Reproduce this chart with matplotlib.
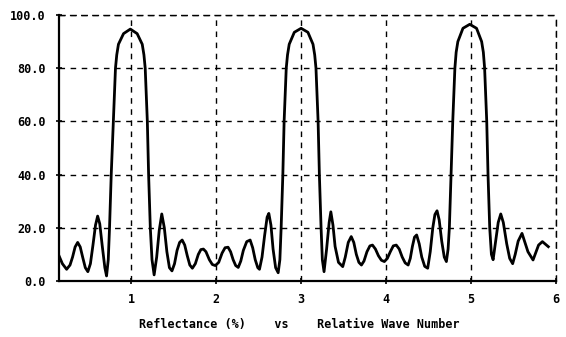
import matplotlib
matplotlib.use("Agg")
import matplotlib.pyplot as plt

# Reflectance (%) vs relative wave number

# side lobes left of the first peak
wave_a = [0.15, 0.19, 0.24, 0.28, 0.31, 0.34, 0.37, 0.40, 0.43, 0.46, 0.49,
          0.52, 0.55, 0.58, 0.605, 0.63, 0.66, 0.69, 0.71]
refl_a = [9.5, 6.5, 4.4, 6.0, 9.0, 12.8, 14.5, 12.8, 8.8, 5.0, 3.5,
          6.5, 13.5, 21.0, 24.4, 21.5, 13.0, 5.0, 1.9]

# first peak (around 1)
wave_p1 = [0.73, 0.745, 0.765, 0.79, 0.815, 0.83, 0.85, 0.91, 0.99, 1.07,
           1.13, 1.15, 1.165, 1.19, 1.205, 1.225, 1.245]
refl_p1 = [8, 20, 40, 60, 80, 85, 89, 93, 94.7, 93,
           89, 85, 80, 60, 40, 20, 8]

# side lobes between 1 and 3
wave_b = [1.27, 1.30, 1.33, 1.36, 1.39, 1.42, 1.45, 1.48, 1.51, 1.54, 1.57,
          1.60, 1.63, 1.66, 1.69, 1.72, 1.755, 1.79, 1.82, 1.85, 1.88, 1.92,
          1.955, 1.99, 2.03, 2.07, 2.105, 2.14, 2.17, 2.20, 2.23, 2.26, 2.29,
          2.32, 2.36, 2.40, 2.43, 2.46, 2.49, 2.51, 2.54, 2.57, 2.60, 2.62,
          2.645, 2.67, 2.70, 2.73]
refl_b = [2.3, 9, 19, 25.2, 20, 11, 5, 3.8, 6.5, 11.5, 14.5,
          15.4, 13.5, 9.5, 6, 4.8, 6.5, 10, 11.8, 12, 11, 8,
          6.2, 5.8, 7, 10.5, 12.5, 12.7, 11, 8, 5.8, 5.1, 7.5,
          11.5, 14.8, 15.4, 12.5, 8, 5, 4.4, 9, 17, 24, 25.4,
          21, 12, 5, 3.1]

# second peak (around 3)
wave_p2 = [2.75, 2.765, 2.785, 2.80, 2.825, 2.84, 2.86, 2.92, 3.00, 3.08,
           3.14, 3.16, 3.175, 3.20, 3.215, 3.235, 3.25]
refl_p2 = [8, 20, 40, 60, 80, 85, 89, 93.5, 95, 93.5,
           89, 85, 80, 60, 40, 20, 8]

# side lobes between 3 and 5
wave_c = [3.27, 3.30, 3.33, 3.35, 3.375, 3.40, 3.44, 3.49, 3.52, 3.555,
          3.59, 3.62, 3.65, 3.68, 3.71, 3.74, 3.775, 3.81, 3.84, 3.875,
          3.91, 3.945, 3.98, 4.015, 4.05, 4.085, 4.12, 4.155, 4.19, 4.225,
          4.26, 4.285, 4.31, 4.335, 4.36, 4.39, 4.42, 4.455, 4.49, 4.52,
          4.55, 4.575, 4.60, 4.625, 4.655, 4.685, 4.71]
refl_c = [3.5, 12, 22, 26, 21, 13, 7, 5.4, 9, 14.5,
          16.7, 14.5, 10, 7, 6, 7.5, 11, 13.2, 13.5, 12,
          9.5, 7.8, 7.3, 8.5, 11, 13.2, 13.5, 12, 9, 6.8,
          6, 8.5, 13, 16.5, 17.3, 14, 9, 5.5, 4.8, 11,
          20, 25, 26.4, 23, 15, 9, 7.3]

# third peak (around 5)
wave_p3 = [4.73, 4.745, 4.765, 4.785, 4.81, 4.825, 4.845, 4.905, 4.985, 5.065,
           5.125, 5.145, 5.16, 5.185, 5.20, 5.22, 5.24]
refl_p3 = [12, 20, 40, 60, 80, 86, 90, 95, 96.5, 95,
           90, 86, 80, 60, 40, 20, 10]

# tail after the third peak
wave_d = [5.26, 5.29, 5.32, 5.35, 5.38, 5.42, 5.455, 5.49, 5.52, 5.555,
          5.60, 5.67, 5.73, 5.795, 5.84, 5.91]
refl_d = [8, 15, 22, 25.2, 22, 14, 8.5, 6.5, 10, 15,
          17.9, 11, 7.9, 13.5, 14.8, 12.9]

wave = wave_a + wave_p1 + wave_b + wave_p2 + wave_c + wave_p3 + wave_d
refl = refl_a + refl_p1 + refl_b + refl_p2 + refl_c + refl_p3 + refl_d

x_ticks = [1, 2, 3, 4, 5, 6]
y_ticks = [0, 20, 40, 60, 80, 100]
y_labels = ["0.0", "20.0", "40.0", "60.0", "80.0", "100.0"]

police = {"family": "DejaVu Sans Mono", "weight": "bold", "size": 8.5}

fig = plt.figure(figsize=(5.66, 3.37), dpi=100)
ax = fig.add_axes([0.1042, 0.1662, 0.8781, 0.7893])

ax.plot(wave, refl, color="black", lw=2.0)

ax.set_xlim(0.15, 6.0)
ax.set_ylim(0, 100)
ax.set_xticks(x_ticks)
ax.set_xticklabels([str(t) for t in x_ticks], fontdict=police)
ax.set_yticks(y_ticks)
ax.set_yticklabels(y_labels, fontdict=police)
ax.tick_params(axis="both", direction="inout", length=5, width=1.2,
               color="black")
ax.tick_params(axis="x", pad=6)
ax.tick_params(axis="y", pad=7)

# grille pointillee
ax.grid(True, color="black", lw=1.0, ls=(0, (4, 4)))
for side in ["top", "right"]:
    ax.spines[side].set_linestyle((0, (4, 4)))
    ax.spines[side].set_linewidth(1.0)
for side in ["left", "bottom"]:
    ax.spines[side].set_linewidth(1.6)

fig.text(0.528, 0.036, "Reflectance (%)    vs    Relative Wave Number",
         ha="center", va="center", **police)

fig.savefig("out.png", dpi=100)
